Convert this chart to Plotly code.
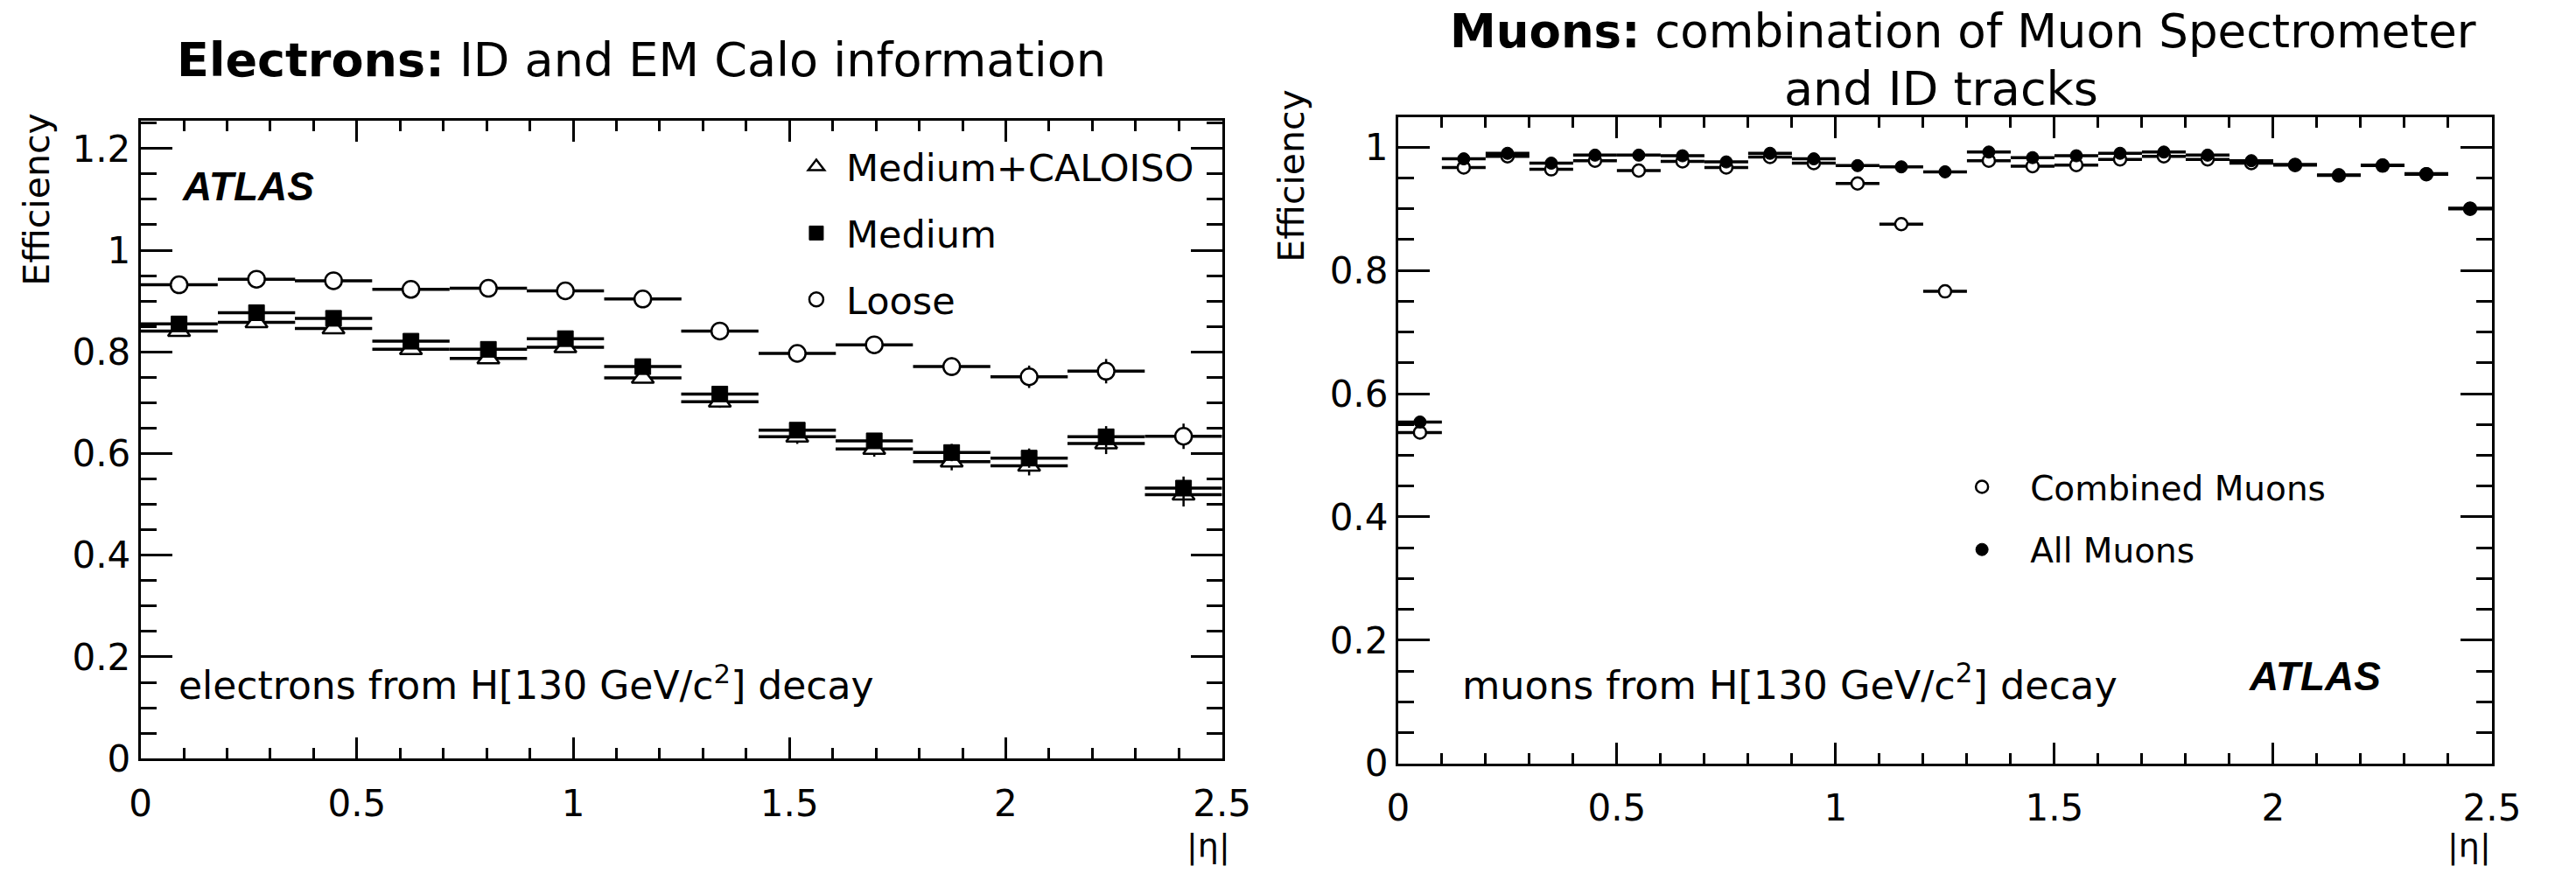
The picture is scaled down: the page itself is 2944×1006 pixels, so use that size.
import plotly.graph_objects as go

# ---------------- data ----------------
# Electrons: 14 |eta| bins over [0, 2.5]
ele_eta = [0.089, 0.268, 0.446, 0.625, 0.804, 0.982, 1.161, 1.339, 1.518, 1.696, 1.875, 2.054, 2.232, 2.411]
ele_bin_half = 0.0893
ele_loose = [0.932, 0.943, 0.940, 0.923, 0.925, 0.920, 0.904, 0.841, 0.797, 0.814, 0.771, 0.751, 0.762, 0.634]
ele_medium = [0.855, 0.877, 0.866, 0.821, 0.805, 0.826, 0.771, 0.717, 0.646, 0.625, 0.602, 0.591, 0.633, 0.532]
ele_medium_caloiso = [0.841, 0.858, 0.846, 0.805, 0.787, 0.809, 0.749, 0.702, 0.633, 0.609, 0.584, 0.576, 0.620, 0.519]
ele_loose_err = [0.007, 0.007, 0.007, 0.007, 0.007, 0.008, 0.009, 0.012, 0.014, 0.015, 0.018, 0.022, 0.024, 0.025]
ele_medium_err = [0.008, 0.008, 0.008, 0.008, 0.008, 0.009, 0.010, 0.012, 0.014, 0.015, 0.017, 0.019, 0.021, 0.023]

# Muons: 25 |eta| bins of width 0.1
mu_eta = [0.05, 0.15, 0.25, 0.35, 0.45, 0.55, 0.65, 0.75, 0.85, 0.95, 1.05, 1.15, 1.25,
          1.35, 1.45, 1.55, 1.65, 1.75, 1.85, 1.95, 2.05, 2.15, 2.25, 2.35, 2.45]
mu_bin_half = 0.05
mu_all = [0.554, 0.981, 0.990, 0.974, 0.987, 0.987, 0.986, 0.976, 0.990, 0.981, 0.970, 0.968, 0.960,
          0.992, 0.983, 0.986, 0.990, 0.992, 0.987, 0.978, 0.972, 0.955, 0.971, 0.957, 0.901]
mu_combined = [0.537, 0.967, 0.985, 0.964, 0.978, 0.962, 0.977, 0.967, 0.984, 0.974, 0.941, 0.875, 0.766,
               0.978, 0.969, 0.971, 0.980, 0.985, 0.980, 0.974, 0.971, 0.954, 0.970, 0.956, 0.900]
mu_err = [0.008, 0.005, 0.004, 0.005, 0.004, 0.005, 0.004, 0.005, 0.004, 0.005, 0.006, 0.008, 0.010,
          0.005, 0.005, 0.005, 0.004, 0.004, 0.005, 0.005, 0.005, 0.006, 0.006, 0.006, 0.007]

x_ticks = [0, 0.5, 1, 1.5, 2, 2.5]

# ---------------- figure ----------------
W, H = 2944, 1006
FONT = "DejaVu Sans"
fig = go.Figure()


def px(x):
    return x / W


def py(y):
    return 1 - y / H


def ebar(val, thick):
    return dict(type="constant", value=val, width=0, thickness=thick, color="black")


def eyarr(arr):
    return dict(type="data", array=arr, width=0, thickness=2.5, color="black")


fig.add_trace(go.Scatter(
    x=ele_eta, y=ele_medium_caloiso, mode="markers", name="Medium+CALOISO",
    error_x=ebar(ele_bin_half, 3.5), error_y=eyarr(ele_medium_err),
    marker=dict(symbol="triangle-up", size=22, color="white", line=dict(color="black", width=2.5)),
    xaxis="x", yaxis="y", legend="legend", legendgroup="a", legendrank=1))
fig.add_trace(go.Scatter(
    x=ele_eta, y=ele_medium, mode="markers", name="Medium",
    error_x=ebar(ele_bin_half, 3.5), error_y=eyarr(ele_medium_err),
    marker=dict(symbol="square", size=18, color="black", line=dict(color="black", width=1)),
    xaxis="x", yaxis="y", legend="legend", legendgroup="b", legendrank=2))
fig.add_trace(go.Scatter(
    x=ele_eta, y=ele_loose, mode="markers", name="Loose",
    error_x=ebar(ele_bin_half, 3.5), error_y=eyarr(ele_loose_err),
    marker=dict(symbol="circle", size=19, color="white", line=dict(color="black", width=2.5)),
    xaxis="x", yaxis="y", legend="legend", legendgroup="c", legendrank=3))

fig.add_trace(go.Scatter(
    x=mu_eta, y=mu_combined, mode="markers", name="Combined Muons",
    error_x=ebar(mu_bin_half, 3.5), error_y=eyarr(mu_err),
    marker=dict(symbol="circle", size=14, color="white", line=dict(color="black", width=2.5)),
    xaxis="x2", yaxis="y2", legend="legend2", legendgroup="d", legendrank=1))
fig.add_trace(go.Scatter(
    x=mu_eta, y=mu_all, mode="markers", name="All Muons",
    error_x=ebar(mu_bin_half, 3.5), error_y=eyarr(mu_err),
    marker=dict(symbol="circle", size=14, color="black", line=dict(color="black", width=1)),
    xaxis="x2", yaxis="y2", legend="legend2", legendgroup="e", legendrank=2))

tickfont = dict(family=FONT, size=42, color="black")


def xaxis_cfg(domain, anchor):
    return dict(domain=domain, anchor=anchor, range=[0, 2.5], tickvals=x_ticks,
                ticks="inside", ticklen=24, tickwidth=2.5, tickcolor="black",
                showline=True, linecolor="black", linewidth=3, mirror="ticks",
                showgrid=False, zeroline=False, tickfont=tickfont, ticklabelstandoff=12,
                minor=dict(dtick=0.1, tick0=0, ticks="inside", ticklen=12, tickwidth=2.5,
                           tickcolor="black", showgrid=False))


def yaxis_cfg(domain, anchor, rng):
    return dict(domain=domain, anchor=anchor, range=rng, dtick=0.2, tick0=0,
                ticks="inside", ticklen=36, tickwidth=2.5, tickcolor="black",
                showline=True, linecolor="black", linewidth=3, mirror="ticks",
                showgrid=False, zeroline=False, tickfont=tickfont,
                minor=dict(dtick=0.05, tick0=0, ticks="inside", ticklen=18, tickwidth=2.5,
                           tickcolor="black", showgrid=False))


annotations = []


def ann(text, x, y, size, xanchor="center", family=FONT, angle=0, yanchor="middle"):
    annotations.append(dict(text=text, x=px(x), y=py(y), xref="paper", yref="paper",
                            xanchor=xanchor, yanchor=yanchor, showarrow=False, textangle=angle,
                            font=dict(family=family, size=size, color="black")))


# titles
ann("<b>Electrons:</b> ID and EM Calo information", 731, 70, 54)
ann("<b>Muons:</b> combination of Muon Spectrometer", 2266, 36, 53)
ann("and ID tracks", 2240, 104, 54)
# in-plot texts
ann("electrons from H[130 GeV/c<sup>2</sup>] decay", 192, 800, 44, xanchor="left")
ann("muons from H[130 GeV/c<sup>2</sup>] decay", 1682, 800, 44.5, xanchor="left")
ann("<b><i>ATLAS</i></b>", 196, 218, 46, xanchor="left", family="Liberation Sans")
ann("<b><i>ATLAS</i></b>", 2596, 793, 46, xanchor="left", family="Liberation Sans")
# axis titles
ann("Efficiency", 30, 234, 41, angle=-90)
ann("Efficiency", 1486, 206, 41, angle=-90)
ann("|η|", 1390, 992, 38)
ann("|η|", 2854, 992, 38)

fig.update_layout(
    width=W, height=H, margin=dict(l=0, r=0, t=0, b=0),
    paper_bgcolor="white", plot_bgcolor="white",
    xaxis=xaxis_cfg([px(150), px(1405.6)], "y"),
    yaxis=yaxis_cfg([py(889.3), py(141.7)], "x", [0, 1.2544]),
    xaxis2=xaxis_cfg([px(1610), px(2880)], "y2"),
    yaxis2=yaxis_cfg([py(895), py(137.3)], "x2", [0, 1.0487]),
    showlegend=True,
    legend=dict(x=px(900), y=py(160), xanchor="left", yanchor="top",
                font=dict(family=FONT, size=43, color="black"),
                bgcolor="rgba(0,0,0,0)", traceorder="grouped", tracegroupgap=17,
                itemwidth=58),
    legend2=dict(x=px(2232), y=py(538), xanchor="left", yanchor="top",
                 font=dict(family=FONT, size=39, color="black"),
                 bgcolor="rgba(0,0,0,0)", traceorder="grouped", tracegroupgap=18,
                 itemwidth=100),
    annotations=annotations,
)

fig.write_html("out.html")
